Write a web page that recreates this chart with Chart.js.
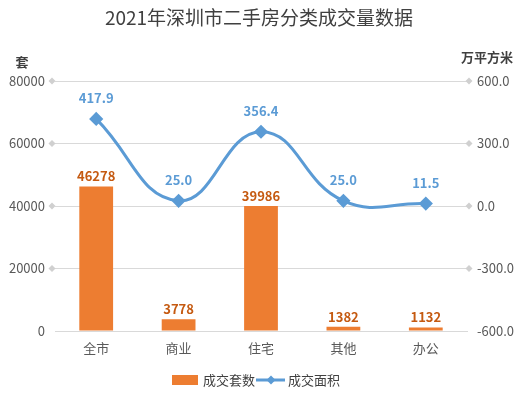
<!DOCTYPE html>
<html>
<head>
<meta charset="utf-8">
<script src="https://cdn.jsdelivr.net/npm/chart.js@4/dist/chart.umd.min.js"></script>
<style>
  html, body { margin: 0; padding: 0; background: #fff; }
  #wrap { width: 517px; height: 393px; position: relative; }
</style>
</head>
<body>
<div id="wrap"><canvas id="chart"></canvas></div>
<script>
const categories = ["全市", "商业", "住宅", "其他", "办公"];
const dealCount = [46278, 3778, 39986, 1382, 1132];
const dealArea = [417.9, 25.0, 356.4, 25.0, 11.5];
const leftTicks = [0, 20000, 40000, 60000, 80000];
const rightTicks = [-600, -300, 0, 300, 600];

const FONT = '"Noto Sans CJK SC", "Noto Sans", sans-serif';
const ORANGE = "#ED7D31";
const BLUE = "#5B9BD5";

// titles, data labels, diamond tick marks and legend
const decor = {
  id: "decor",
  afterDraw(chart) {
    const ctx = chart.ctx;
    const area = chart.chartArea;
    const yL = chart.scales.y, yR = chart.scales.y1;
    ctx.save();

    ctx.fillStyle = "#404040";
    ctx.font = "19px " + FONT;
    ctx.textAlign = "center";
    ctx.textBaseline = "middle";
    ctx.fillText("2021年深圳市二手房分类成交量数据", 259, 18);

    ctx.font = "bold 13px " + FONT;
    ctx.fillText("套", 22, 62);
    ctx.fillText("万平方米", 487, 57);

    // small diamonds at gridline ends
    ctx.fillStyle = "#d0d0d0";
    const diamond = (x, y) => {
      ctx.beginPath();
      ctx.moveTo(x, y - 3.5); ctx.lineTo(x + 3.5, y);
      ctx.lineTo(x, y + 3.5); ctx.lineTo(x - 3.5, y);
      ctx.closePath(); ctx.fill();
    };
    leftTicks.slice(1).forEach(v => diamond(area.left - 3, yL.getPixelForValue(v)));
    rightTicks.slice(1).forEach(v => diamond(area.right + 2, yR.getPixelForValue(v)));

    // data labels
    ctx.font = "bold 13px " + FONT;
    ctx.fillStyle = "#C55A11";
    chart.getDatasetMeta(1).data.forEach((bar, i) => {
      ctx.fillText(String(dealCount[i]), bar.x, bar.y - 10);
    });
    ctx.fillStyle = BLUE;
    chart.getDatasetMeta(0).data.forEach((pt, i) => {
      ctx.fillText(dealArea[i].toFixed(1), pt.x, pt.y - 21);
    });

    // legend
    const ly = 380;
    ctx.font = "13px " + FONT;
    ctx.textAlign = "left";
    ctx.fillStyle = ORANGE;
    ctx.fillRect(172, ly - 5, 26, 10);
    ctx.fillStyle = "#404040";
    ctx.fillText("成交套数", 203, ly);
    ctx.strokeStyle = BLUE;
    ctx.lineWidth = 3;
    ctx.beginPath(); ctx.moveTo(256, ly); ctx.lineTo(285, ly); ctx.stroke();
    ctx.fillStyle = BLUE;
    ctx.beginPath();
    ctx.moveTo(271, ly - 4.5); ctx.lineTo(275.5, ly);
    ctx.lineTo(271, ly + 4.5); ctx.lineTo(266.5, ly);
    ctx.closePath(); ctx.fill();
    ctx.fillStyle = "#404040";
    ctx.fillText("成交面积", 288, ly);
    ctx.restore();
  }
};

new Chart(document.getElementById("chart"), {
  data: {
    labels: categories,
    datasets: [
      {
        type: "line",
        label: "成交面积",
        data: dealArea,
        yAxisID: "y1",
        borderColor: BLUE,
        backgroundColor: BLUE,
        borderWidth: 3,
        tension: 0.45,
        pointStyle: "rectRot",
        pointRadius: 5,
        order: 0
      },
      {
        type: "bar",
        label: "成交套数",
        data: dealCount,
        yAxisID: "y",
        backgroundColor: ORANGE,
        categoryPercentage: 1,
        barPercentage: 0.41,
        order: 1
      }
    ]
  },
  options: {
    responsive: true,
    maintainAspectRatio: false,
    animation: false,
    layout: { padding: { top: 81, left: 0, right: 0, bottom: 0 } },
    plugins: { legend: { display: false }, tooltip: { enabled: false } },
    scales: {
      x: {
        grid: { display: false, drawTicks: false },
        border: { color: "#d9d9d9", width: 1 },
        ticks: { color: "#595959", font: { family: FONT, size: 13 }, padding: 9 },
        afterFit(s) { s.height = 62; }
      },
      y: {
        position: "left",
        min: 0, max: 80000,
        afterBuildTicks(s) { s.ticks = leftTicks.map(v => ({ value: v })); },
        grid: { color: "#d9d9d9", drawTicks: false },
        border: { display: false },
        ticks: {
          color: "#595959", font: { family: FONT, size: 13 }, padding: 10,
          callback: v => String(v)
        },
        afterFit(s) { s.width = 55; }
      },
      y1: {
        position: "right",
        min: -600, max: 600,
        afterBuildTicks(s) { s.ticks = rightTicks.map(v => ({ value: v })); },
        grid: { display: false, drawTicks: false },
        border: { display: false },
        ticks: {
          color: "#595959", font: { family: FONT, size: 13 }, padding: 10,
          callback: v => Number(v).toFixed(1)
        },
        afterFit(s) { s.width = 50; }
      }
    }
  },
  plugins: [decor]
});
</script>
</body>
</html>
